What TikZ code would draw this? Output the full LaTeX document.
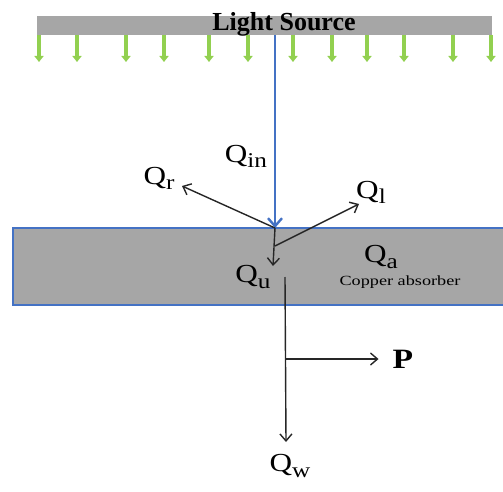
\documentclass[tikz,border=0pt]{standalone}
\usepackage{fontspec}
\usepackage{graphicx}
\setmainfont{Liberation Serif}
\usetikzlibrary{arrows.meta,positioning,calc}
\definecolor{srcgray}{RGB}{166,166,166}
\definecolor{rayblue}{RGB}{68,114,196}
\definecolor{leafgreen}{RGB}{146,208,80}
\newcommand{\heatq}[1]{\scalebox{1.2}[1]{Q\raisebox{-0.2em}{\fontsize{21}{21}\selectfont #1}}}

\begin{document}
\begin{tikzpicture}[x=1pt,y=-1pt,
  flow/.style={-{Straight Barb[length=7pt,width=12pt]},line width=1.4pt,black!85},
  qlabel/.style={font=\fontsize{26}{26}\selectfont,inner sep=0pt}]
  \useasboundingbox (0,0) rectangle (503,492);
  % 光源バー
  \fill[srcgray] (37,16) rectangle (492,35);
  \node[font=\bfseries\fontsize{26}{26}\selectfont,inner sep=0pt] (src) at (284,24) {Light Source};
  % 緑の光線（光源から下向き）
  \foreach \x in {39,77,126,164,209,248,293,332,367,404,453,491}
    \draw[leafgreen,line width=3.6pt,-{Triangle[length=6pt,width=9pt]}] (\x,35) -- (\x,62);
  % 銅吸収体
  \draw[rayblue,line width=2pt,fill=srcgray] (13,228) rectangle (515,305);
  \coordinate (hit) at (275,228);
  \coordinate (top) at (275,35);
  \coordinate (split) at (275,246);
  \coordinate (down) at (285,277);
  \coordinate (branch) at (285,359);
  % 入射光
  \draw[rayblue,line width=2.4pt,-{Straight Barb[length=8pt,width=14pt]}] (top) -- (hit);
  % ラベル
  \node[qlabel] (qin) at (246,156) {\heatq{in}};
  \node[qlabel] (qr) at (159,178) {\heatq{r}};
  \node[qlabel] (ql) at (371,192) {\heatq{l}};
  \node[qlabel] (qu) at (253,277) {\heatq{u}};
  \node[qlabel] (qa) at (381,257) {\heatq{a}};
  \node[font=\fontsize{14}{14}\selectfont,inner sep=0pt] (cu) at (400,282) {\scalebox{1.3}[1]{Copper absorber}};
  \node[qlabel,font=\bfseries\fontsize{28}{28}\selectfont] (p) at (403,359) {\scalebox{1.2}[1]{P}};
  \node[qlabel] (qw) at (290,466) {\heatq{w}};
  % 反射・損失・有効熱
  \draw[flow] (hit) -- (182,186);
  \draw[flow] (split) -- (359,204);
  \draw[flow] (hit) -- (273,266);
  % 下向きの流れと P
  \draw[flow] (down) -- (286,442);
  \draw[flow] (branch) -- ($(p.west)+(-14,0)$);
\end{tikzpicture}
\end{document}
